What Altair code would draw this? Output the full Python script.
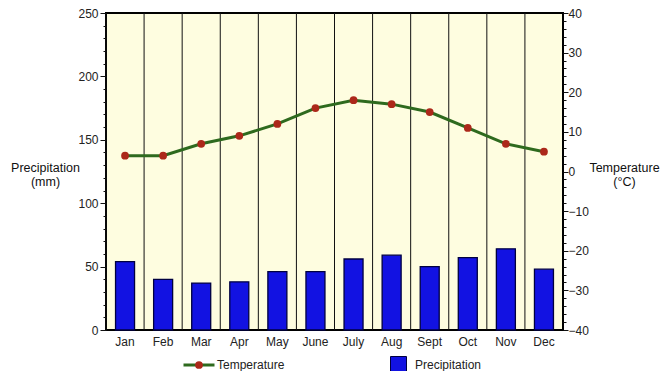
import altair as alt
import pandas as pd

months = ["Jan", "Feb", "Mar", "Apr", "May", "June", "July", "Aug", "Sept", "Oct", "Nov", "Dec"]
precip = [54, 40, 37, 38, 46, 46, 56, 59, 50, 57, 64, 48]
temp = [4, 4, 7, 9, 12, 16, 18, 17, 15, 11, 7, 5]
precip_ticks = list(range(0, 251, 10))
temp_ticks = list(range(-40, 41, 2))

df = pd.DataFrame({
    "Month": months,
    "Precip": precip,
    "Temp": temp,
    "P": ["Precipitation"] * 12,
    "T": ["Temperature"] * 12,
    "T2": ["Temperature"] * 12,
})

FONT = "Liberation Sans"
W, H = 457, 317
BLUE = "#1212E2"
GREEN = "#2E6A1E"
RED = "#AC281A"

xscale = alt.Scale(domain=months, paddingInner=0, paddingOuter=0)
xaxis = alt.Axis(title=None, ticks=False, domain=False, labelAngle=0,
                 labelPadding=6, labelFontSize=12, labelColor="#222",
                 labelFont=FONT)
xenc = alt.X("Month:N", sort=months, scale=xscale, axis=xaxis)

base = alt.Chart(df)

grid = base.mark_rule(color="#111111", strokeWidth=1).encode(
    x=alt.X("Month:N", sort=months, scale=xscale, bandPosition=0, axis=xaxis)
)

left_axis = alt.Axis(
    orient="left", values=precip_ticks,
    labelExpr="datum.value % 50 === 0 ? datum.label : ''",
    tickSize={"condition": {"test": "datum.value % 50 === 0", "value": 6}, "value": 3},
    tickColor="#111", tickWidth=1, domain=False, grid=False,
    labelOverlap=False, labelPadding=2, labelFontSize=12, labelColor="#222", labelFont=FONT,
    title=["Precipitation", "(mm)"], titleAngle=0, titleAlign="center",
    titleBaseline="middle", titleX=-61, titleY=154, titleFontSize=12.5,
    titleFontWeight="normal", titleFont=FONT, titleColor="#111", titleLineHeight=14,
)

right_axis = alt.Axis(
    orient="right", values=temp_ticks,
    labelExpr="datum.value % 10 === 0 ? datum.label : ''",
    tickSize={"condition": {"test": "datum.value % 10 === 0", "value": 5}, "value": 3},
    tickColor="#111", tickWidth=1, domain=False, grid=False,
    labelOverlap=False, labelPadding=0, labelFontSize=12, labelColor="#222", labelFont=FONT,
    title=["Temperature", "(°C)"], titleAngle=0, titleAlign="center",
    titleBaseline="middle", titleX=61, titleY=154, titleFontSize=12.5,
    titleFontWeight="normal", titleFont=FONT, titleColor="#111", titleLineHeight=14,
)

yleft = alt.Y("Precip:Q", scale=alt.Scale(domain=[0, 250], nice=False), axis=left_axis)
yright = alt.Y("Temp:Q", scale=alt.Scale(domain=[-40, 40], nice=False), axis=right_axis)

bars = base.mark_bar(size=19, stroke="#000040", strokeWidth=1.3).encode(
    x=xenc,
    y=yleft,
    fill=alt.Fill("P:N", scale=alt.Scale(range=[BLUE]),
                  legend=alt.Legend(orient="none", legendX=284, legendY=343, title=None,
                                    symbolType="square", symbolSize=256,
                                    symbolStrokeColor="#000040", symbolStrokeWidth=1,
                                    labelOffset=8, labelFontSize=12, labelFont=FONT,
                                    labelColor="#222", padding=0)),
)

line = base.mark_line(strokeWidth=3).encode(
    x=xenc,
    y=yright,
    stroke=alt.Stroke("T:N", scale=alt.Scale(range=[GREEN]),
                      legend=alt.Legend(orient="none", legendX=76, legendY=335, title=None,
                                        symbolType="stroke", symbolSize=961,
                                        symbolStrokeWidth=3, symbolStrokeColor=GREEN,
                                        labelOffset=1, labelFontSize=12, labelFont=FONT,
                                        labelColor="#222", padding=0)),
)

points = base.mark_point(filled=True, size=60, opacity=1, color=RED).encode(
    x=xenc,
    y=yright,
    shape=alt.Shape("T2:N", scale=alt.Scale(range=["circle"]),
                    legend=alt.Legend(orient="none", legendX=88, legendY=347, title=None,
                                      symbolSize=60, symbolFillColor=RED,
                                      symbolStrokeColor=RED, symbolOpacity=1,
                                      labelExpr="''", padding=0)),
)

left_group = alt.layer(grid, bars)
right_group = alt.layer(line, points)

chart = alt.layer(left_group, right_group).resolve_scale(y="independent").properties(
    width=W, height=H,
    autosize=alt.AutoSizeParams(type="none"),
    padding={"left": 98, "top": 5, "right": 100, "bottom": 41},
    background="white",
).configure_view(
    stroke="#000000", strokeWidth=2, fill="#FEFDE0"
)

chart.save("out.html", embed_options={"renderer": "svg", "actions": False})
